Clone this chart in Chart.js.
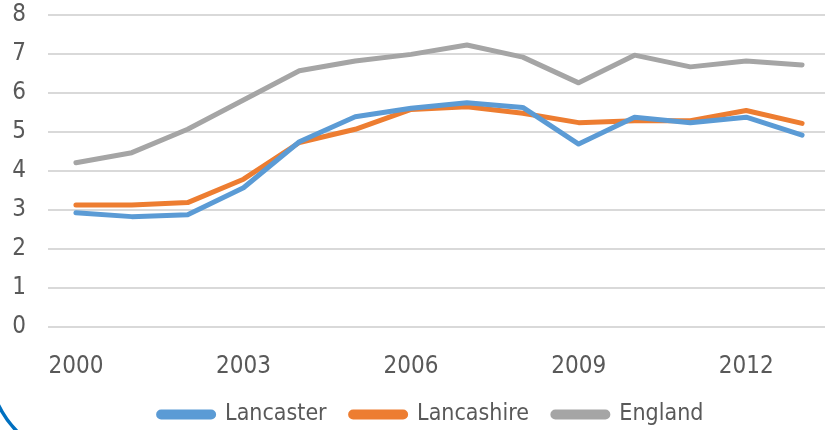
<!DOCTYPE html>
<html>
<head>
<meta charset="utf-8">
<script src="https://cdn.jsdelivr.net/npm/chart.js@4/dist/chart.umd.min.js"></script>
<style>
  html, body { margin: 0; padding: 0; background: #fff; overflow: hidden; }
  #wrap { width: 862px; height: 430px; }
</style>
</head>
<body>
<div id="wrap"><canvas id="myChart" width="862" height="430"></canvas></div>
<script>
// years on the x axis
const years = ['2000', '2001', '2002', '2003', '2004', '2005', '2006',
  '2007', '2008', '2009', '2010', '2011', '2012', '2013'];

// values
const lancaster = [2.93, 2.83, 2.88, 3.57, 4.75, 5.39, 5.61, 5.75, 5.63, 4.69, 5.38, 5.24, 5.38, 4.92];
const lancashire = [3.13, 3.13, 3.19, 3.79, 4.73, 5.07, 5.58, 5.65, 5.48, 5.24, 5.29, 5.29, 5.55, 5.22];
const england = [4.21, 4.47, 5.07, 5.82, 6.57, 6.82, 6.99, 7.23, 6.92, 6.26, 6.97, 6.67, 6.82, 6.72];

const FONT = "'DejaVu Sans Condensed', 'DejaVu Sans', sans-serif";

function series(label, values, colour) {
  return {
    label: label,
    data: values,
    borderColor: colour,
    backgroundColor: colour,
    borderWidth: 5,
    borderCapStyle: 'round',
    borderJoinStyle: 'round',
    pointRadius: 0,
    pointHoverRadius: 0,
    tension: 0,
  };
}

// the blue arc in the lower left corner of the slide
const cornerArc = {
  id: 'cornerArc',
  afterDraw(chart) {
    const ctx = chart.ctx;
    ctx.save();
    ctx.strokeStyle = '#0070C0';
    ctx.lineWidth = 3.5;
    ctx.beginPath();
    ctx.arc(90, 360, 102, Math.PI * 0.7, Math.PI * 0.9);
    ctx.stroke();
    ctx.restore();
  },
};

const data = {
  labels: years,
  datasets: [
    series('Lancaster', lancaster, '#5B9BD5'),
    series('Lancashire', lancashire, '#ED7D31'),
    series('England', england, '#A5A5A5'),
  ],
};

const config = {
  type: 'line',
  data: data,
  plugins: [cornerArc],
  options: {
    responsive: false,
    animation: false,
    layout: { padding: { top: 0, right: 0, left: 0, bottom: -6 } },
    plugins: {
      tooltip: { enabled: false },
      legend: {
        position: 'bottom',
        labels: {
          color: '#595959',
          font: { family: FONT, size: 23 },
          boxWidth: 55,
          boxHeight: 5,
          useBorderRadius: true,
          borderRadius: 2.5,
          padding: 24,
        },
      },
    },
    scales: {
      x: {
        offset: true,
        grid: { display: false },
        border: { display: false },
        ticks: {
          autoSkip: false,
          maxRotation: 0,
          color: '#595959',
          font: { family: FONT, size: 24 },
          padding: 17,
          callback: function (value, index) {
            return index % 3 === 0 ? this.getLabelForValue(value) : '';
          },
        },
        afterFit: function (scale) { scale.height = 52; },
      },
      y: {
        min: 0,
        max: 8,
        border: { display: false },
        grid: { color: '#D9D9D9', lineWidth: 2, drawTicks: false },
        ticks: {
          stepSize: 1,
          color: '#595959',
          font: { family: FONT, size: 24 },
          padding: 22,
        },
        afterFit: function (scale) {
          scale.width = 48;
          scale.paddingTop = 15;
          scale.paddingBottom = 0;
        },
      },
      // empty strip on the right, past the window edge
      yRight: {
        position: 'right',
        min: 0,
        max: 8,
        grid: { display: false },
        border: { display: false },
        ticks: { display: false },
        afterFit: function (scale) {
          scale.width = 32;
          scale.paddingTop = 0;
          scale.paddingBottom = 0;
        },
      },
    },
  },
};

const myChart = new Chart(document.getElementById('myChart'), config);
</script>
</body>
</html>
